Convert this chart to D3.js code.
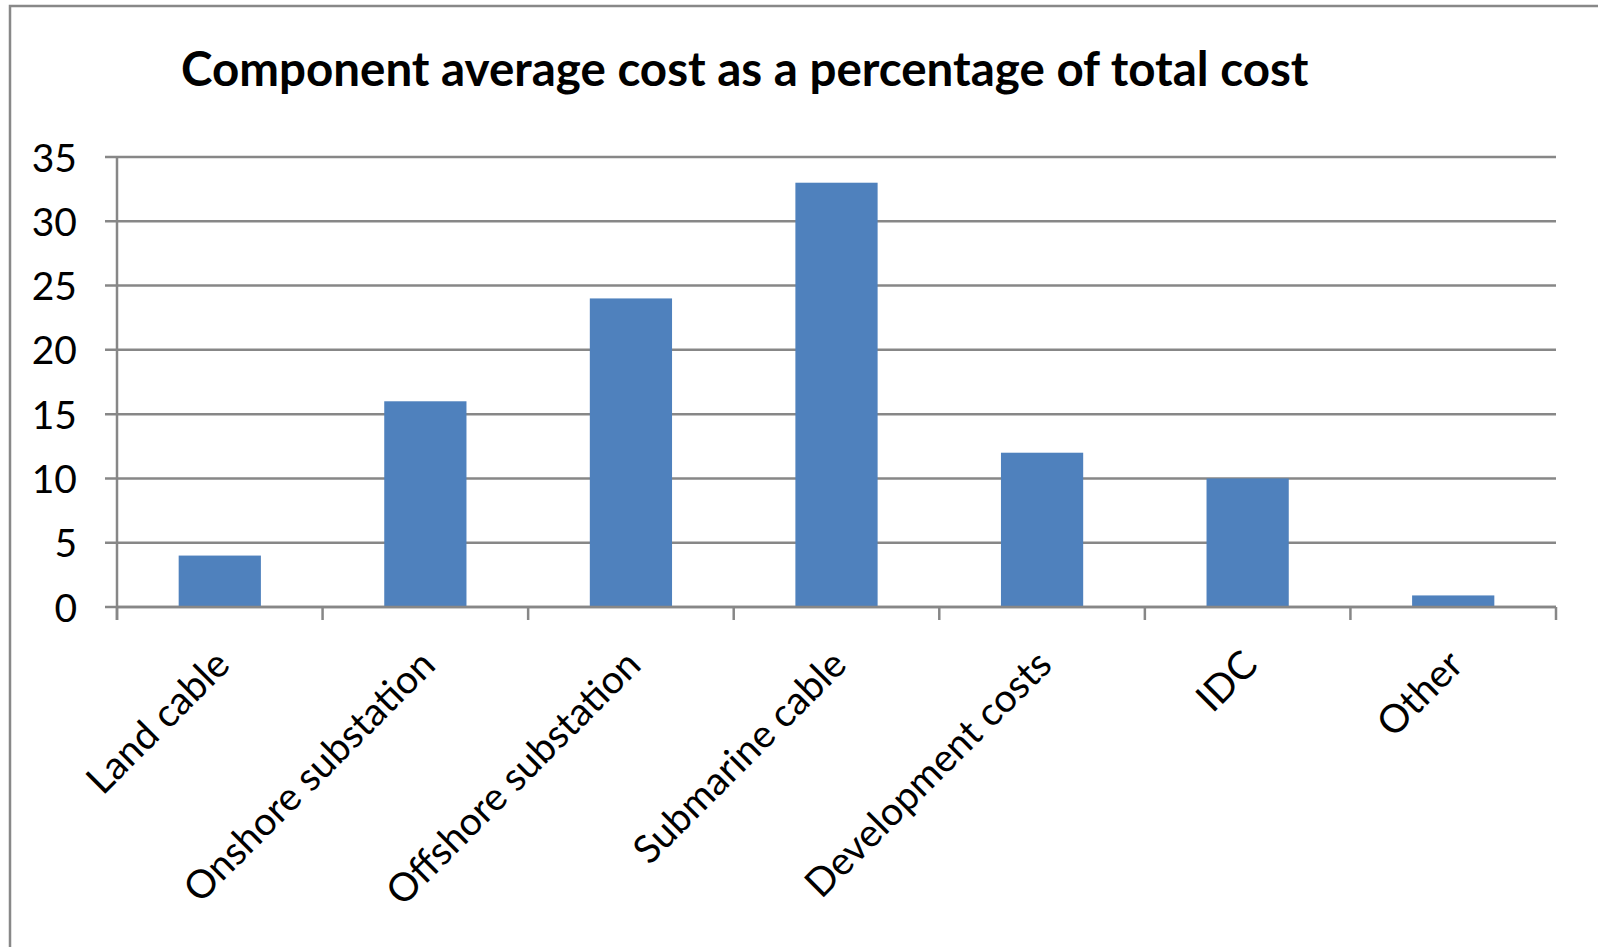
<!DOCTYPE html>
<html lang="en">
<head>
<meta charset="utf-8">
<title>Component average cost</title>
<style>
body{
  margin: 0;
  background: #fff;
}
.axis text{
  font-family: Lato, "Open Sans", sans-serif;
  fill: #000;
}
</style>
<script src="https://d3js.org/d3.v7.min.js"></script>
</head>
<body>
<div id="chart"></div>
<script>
var categories = ['Land cable', 'Onshore substation', 'Offshore substation', 'Submarine cable', 'Development costs', 'IDC', 'Other'];
var values = [4, 16, 24, 33, 12, 10, 0.9];
var yTicks = [0, 5, 10, 15, 20, 25, 30, 35];

var W = 1598, H = 947;
var margin = { top: 157, left: 117, right: 42, bottom: 340 };
var width = 1556 - margin.left, height = 607 - margin.top;

var svg = d3.select('#chart').append('svg')
  .attr('width', W)
  .attr('height', H);

/* outer chart frame, only top and left edges visible */
svg.append('rect')
  .attr('x', 10).attr('y', 6)
  .attr('width', W + 20).attr('height', H + 20)
  .style('fill', 'none')
  .style('stroke', '#888')
  .style('stroke-width', 2.5);

svg.append('text')
  .attr('x', 181)
  .attr('y', 86)
  .style('font-family', 'Lato, "Open Sans", sans-serif')
  .style('font-weight', 'bold')
  .style('font-size', '47.5px')
  .text('Component average cost as a percentage of total cost');

var yScale = d3.scaleLinear().domain([0, 35]).range([height, 0]);
var xScale = d3.scaleBand().domain(categories).range([0, width]).paddingInner(0.6).paddingOuter(0.3);
var xTick = d3.scaleBand().domain(categories).range([0, width]);

var graph = svg.append('g')
  .attr('transform', 'translate(' + margin.left + ',' + margin.top + ')');

/* gridlines */
graph.append('g')
  .selectAll('line')
  .data(yTicks)
  .enter()
  .append('line')
  .attr('x1', -12)
  .attr('x2', width)
  .attr('y1', function(d) { return yScale(d); })
  .attr('y2', function(d) { return yScale(d); })
  .style('stroke', '#878787')
  .style('stroke-width', 2.5);

graph.selectAll('rect.bar')
  .data(values)
  .enter()
  .append('rect')
  .attr('class', 'bar')
  .attr('x', function(d, i) { return xScale(categories[i]); })
  .attr('y', function(d) { return yScale(d); })
  .attr('width', xScale.bandwidth())
  .attr('height', function(d) { return height - yScale(d); })
  .style('fill', '#4F81BD');

/* y axis */
var yAxis = graph.append('g')
  .attr('class', 'axis')
  .call(d3.axisLeft(yScale).tickValues(yTicks).tickSize(0).tickPadding(40));
yAxis.select('.domain').remove();
yAxis.selectAll('text').style('font-size', '39px').attr('dy', '0.36em');

graph.append('line')
  .attr('x1', 0).attr('x2', 0)
  .attr('y1', 0).attr('y2', height + 13)
  .style('stroke', '#878787')
  .style('stroke-width', 2.5);

/* x axis */
var xAxis = graph.append('g')
  .attr('class', 'axis')
  .attr('transform', 'translate(0,' + height + ')');

xAxis.append('line')
  .attr('x1', 0).attr('x2', width)
  .style('stroke', '#878787')
  .style('stroke-width', 2.5);

xAxis.selectAll('line.tick')
  .data(categories.concat(['end']))
  .enter()
  .append('line')
  .attr('class', 'tick')
  .attr('x1', function(d, i) { return i * xTick.step(); })
  .attr('x2', function(d, i) { return i * xTick.step(); })
  .attr('y1', 0).attr('y2', 13)
  .style('stroke', '#878787')
  .style('stroke-width', 2.5);

xAxis.selectAll('text')
  .data(categories)
  .enter()
  .append('text')
  .attr('transform', function(d) {
    return 'translate(' + (xTick(d) + xTick.bandwidth() / 2 + 12) + ',60) rotate(-45)';
  })
  .style('text-anchor', 'end')
  .style('font-size', '39px')
  .text(function(d) { return d; });
</script>
</body>
</html>
